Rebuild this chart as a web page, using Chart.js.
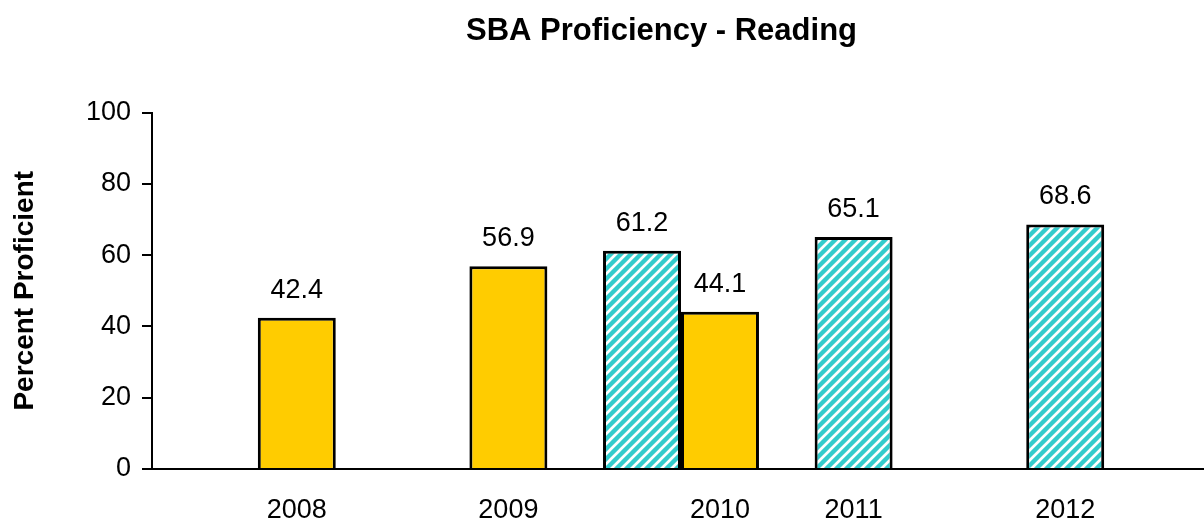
<!DOCTYPE html>
<html><head><meta charset="utf-8">
<script src="https://cdn.jsdelivr.net/npm/chart.js@4/dist/chart.umd.min.js"></script>
<style>
html,body{margin:0;padding:0;overflow:hidden;background:#fff;width:1204px;height:521px}
#wrap{position:relative;width:1210px;height:521px}
canvas{display:block}
</style>
</head><body><div id="wrap"><canvas id="c" width="1210" height="521"></canvas></div>
<script>
const chartTitle = 'SBA Proficiency - Reading';
const yAxisTitle = 'Percent Proficient';
const years = ['2008', '2009', '2010', '2011', '2012'];
const hatchedValues = [null, null, 61.2, 65.1, 68.6];
const solidValues = [42.4, 56.9, 44.1, null, null];
const yTickValues = [0, 20, 40, 60, 80, 100];

const FONT = "'Liberation Sans', Arial, sans-serif";

function makeHatch() {
  const n = 10;
  const p = document.createElement('canvas');
  p.width = n; p.height = n;
  const g = p.getContext('2d');
  g.fillStyle = '#33CCCC';
  g.fillRect(0, 0, n, n);
  g.strokeStyle = '#ffffff';
  g.lineWidth = 2.7;
  g.beginPath();
  g.moveTo(-2, n + 2); g.lineTo(n + 2, -2);
  g.moveTo(-2, 2); g.lineTo(2, -2);
  g.moveTo(n - 2, n + 2); g.lineTo(n + 2, n - 2);
  g.stroke();
  return g.createPattern(p, 'repeat');
}
const hatch = makeHatch();

const textPlugin = {
  id: 'texts',
  afterDatasetsDraw(chart) {
    const ctx = chart.ctx;
    const area = chart.chartArea;
    ctx.save();
    ctx.fillStyle = '#000';
    ctx.font = '27px ' + FONT;
    ctx.textAlign = 'center';
    ctx.textBaseline = 'alphabetic';
    chart.data.datasets.forEach((ds, di) => {
      const meta = chart.getDatasetMeta(di);
      meta.data.forEach((el, i) => {
        const v = ds.data[i];
        if (v === null || v === undefined) return;
        ctx.fillText(v.toFixed(1), el.x, el.y - 20);
      });
    });
    years.forEach((y, i) => {
      const di = solidValues[i] !== null ? 1 : 0;
      const el = chart.getDatasetMeta(di).data[i];
      ctx.fillText(y, el.x, area.bottom + 49);
    });
    ctx.font = 'bold 31px ' + FONT;
    ctx.fillText(chartTitle, 661.5, 39.5);
    ctx.font = 'bold 28px ' + FONT;
    ctx.translate(33, (area.top + area.bottom) / 2);
    ctx.rotate(-Math.PI / 2);
    ctx.fillText(yAxisTitle, 0, 0);
    ctx.restore();
  }
};

new Chart(document.getElementById('c'), {
  type: 'bar',
  data: {
    labels: years,
    datasets: [
      { data: hatchedValues, backgroundColor: hatch, borderColor: '#000', borderWidth: 3,
        categoryPercentage: 0.737, barPercentage: 1.0 },
      { data: solidValues, backgroundColor: '#FFCC00', borderColor: '#000', borderWidth: 3,
        categoryPercentage: 0.737, barPercentage: 1.0 }
    ]
  },
  options: {
    responsive: false,
    animation: false,
    devicePixelRatio: 1,
    layout: { padding: { top: 112.5, left: 0, right: 0, bottom: 0 } },
    plugins: { legend: { display: false }, tooltip: { enabled: false }, title: { display: false } },
    scales: {
      x: {
        type: 'category',
        grid: { display: false },
        ticks: { display: false },
        border: { display: true, color: '#000', width: 2 },
        afterFit(s) { s.height = 52; }
      },
      y: {
        min: 0, max: 100,
        afterBuildTicks(s) { s.ticks = yTickValues.map(v => ({ value: v })); },
        ticks: { color: '#000', font: { family: FONT, size: 27 }, padding: 11 },
        grid: { display: true, drawOnChartArea: false, drawTicks: true, tickLength: 10, color: '#000', lineWidth: 2 },
        border: { display: true, color: '#000', width: 2 },
        afterFit(s) { s.width = 152; }
      }
    }
  },
  plugins: [textPlugin]
});
</script>
</body></html>
